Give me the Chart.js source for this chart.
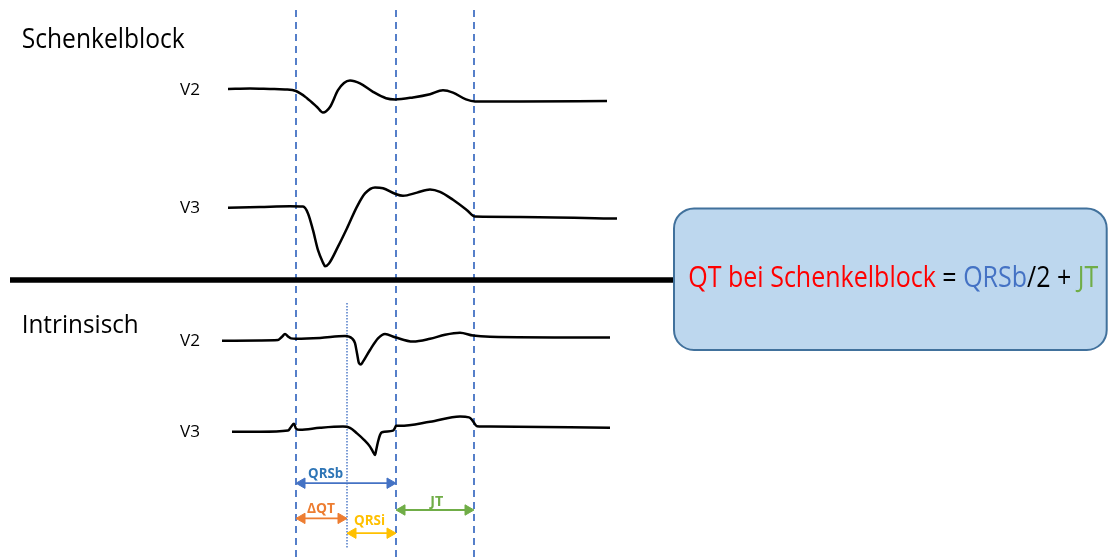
<!DOCTYPE html>
<html><head><meta charset="utf-8">
<script src="https://cdn.jsdelivr.net/npm/chart.js@4/dist/chart.umd.min.js"></script>
<style>html,body{margin:0;padding:0;background:#fff;}canvas{display:block;}</style>
</head><body>
<canvas id="c" width="1108" height="558"></canvas>
<script>
// ---------------- DATA ----------------
const sectionTitles = ['Schenkelblock', 'Intrinsisch'];
const leadLabels = ['V2', 'V3', 'V2', 'V3'];

// time in ms relative to QRS onset, amplitude in mV
const blockV2Time = [-68,-46,-26,-11,0,11,21,27,34,42,48,54,64,77,90,99,117,134,147,157,170,179,224,311];
const blockV2mV   = [0,0.01,0,-0.01,-0.05,-0.23,-0.45,-0.59,-0.45,-0.03,0.15,0.21,0.14,-0.07,-0.23,-0.26,-0.21,-0.13,-0.03,-0.09,-0.26,-0.31,-0.31,-0.3];

const blockV3Time = [-68,-36,-6,7,12,17,22,27,29,33,42,51,61,69,79,87,99,107,121,134,144,157,171,179,224,321];
const blockV3mV   = [-0.02,0,0.02,0.01,-0.16,-0.58,-1.08,-1.39,-1.48,-1.41,-0.99,-0.53,0.01,0.34,0.49,0.47,0.33,0.28,0.36,0.44,0.38,0.18,-0.08,-0.24,-0.25,-0.29];

const intrV2Time = [-74,-36,-18,-14,-11,-8,-5,0,24,49,56,59,61,63,65,67,74,82,89,99,117,134,149,164,177,194,314];
const intrV2mV   = [-0.02,-0.01,0,0.08,0.15,0.09,0.04,0.03,0.05,0.1,0.04,-0.08,-0.33,-0.58,-0.61,-0.54,-0.25,0.04,0.15,0.07,-0.04,0.03,0.13,0.18,0.11,0.08,0.06];

const intrV3Time = [-64,-36,-8,-5,-2,0,4,24,47,54,61,68,74,77,79,80,82,84,86,97,99,100,104,134,164,173,176,181,194,314];
const intrV3mV   = [-0.02,-0.02,0.01,0.1,0.18,0.06,0.03,0.08,0.11,0.08,-0.06,-0.22,-0.39,-0.52,-0.6,-0.5,-0.27,-0.1,-0.03,0.01,0.08,0.13,0.13,0.23,0.36,0.34,0.28,0.12,0.11,0.08];

const intervalBounds = [0, 100, 178];   // QRS onset (block), QRS end, T end
const intrinsicOnset = 51;              // intrinsic QRS onset
const intervalNames = ['QRSb', 'ΔQT', 'QRSi', 'JT'];
const intervalStart = [0, 0, 51, 100];
const intervalEnd   = [100, 51, 100, 178];
const formulaParts = ['QT bei Schenkelblock', ' = ', 'QRSb', '/2 + ', 'JT'];

// ---------------- LAYOUT / STYLE ----------------
const X_MIN = -296, X_MAX = 812, Y_MIN = -13.95, Y_MAX = 0;
const leadBaseline = [-2.225, -5.175, -8.5, -10.775];
const guideTop = -0.25, dottedTop = -7.575, dottedBottom = -13.7;
const dividerY = -7.0, dividerFrom = -286, dividerTo = 379;
const arrowRowY = [-12.08, -12.96, -13.33, -12.75];
const arrowColors = ['#4472C4', '#ED7D31', '#FFC000', '#70AD47'];
const arrowLabelColors = ['#2E75B6', '#ED7D31', '#FFC000', '#70AD47'];
const arrowLabelLayout = [ // centerX px, baseline px, width px
  [325.6, 478, 35], [321, 513, 28], [369.5, 525, 31], [436.7, 506, 13]
];
const HEAD = 6;

const leads = [
  [blockV2Time, blockV2mV], [blockV3Time, blockV3mV],
  [intrV2Time, intrV2mV], [intrV3Time, intrV3mV]
];

const datasets = [];
leads.forEach(([t, v], k) => {
  datasets.push({
    data: t.map((x, i) => ({x, y: v[i] + leadBaseline[k]})),
    borderColor: '#000', borderWidth: 2.5, pointRadius: 0,
    cubicInterpolationMode: 'monotone', fill: false, order: 0
  });
});
datasets.push({
  data: [{x: dividerFrom, y: dividerY}, {x: dividerTo, y: dividerY}],
  borderColor: '#000', borderWidth: 5.5, pointRadius: 0, order: 2, borderCapStyle: 'butt'
});
intervalBounds.forEach(b => {
  datasets.push({
    data: [{x: b, y: guideTop}, {x: b, y: Y_MIN}],
    borderColor: '#4472C4', borderWidth: 1.8, borderDash: [7, 5], pointRadius: 0, order: 3
  });
});
datasets.push({
  data: [{x: intrinsicOnset, y: dottedTop}, {x: intrinsicOnset, y: dottedBottom}],
  borderColor: '#4472C4', borderWidth: 1.4, borderDash: [1.5, 1.5], pointRadius: 0, order: 3
});
intervalNames.forEach((n, i) => {
  datasets.push({
    data: [{x: intervalStart[i] + HEAD, y: arrowRowY[i]}, {x: intervalEnd[i] - HEAD, y: arrowRowY[i]}],
    borderColor: arrowColors[i], borderWidth: 1.8,
    pointStyle: 'triangle', pointRotation: [-90, 90], pointRadius: HEAD,
    pointBackgroundColor: arrowColors[i], pointBorderColor: arrowColors[i], pointBorderWidth: 1,
    order: 1
  });
});

function fitText(ctx, parts, colors, x, y, size, weight, family, targetW) {
  ctx.save();
  ctx.font = `${weight} ${size}px ${family}`;
  ctx.textBaseline = 'alphabetic';
  ctx.textAlign = 'left';
  const widths = parts.map(p => ctx.measureText(p).width);
  const total = widths.reduce((a, b) => a + b, 0);
  const sx = targetW / total;
  ctx.translate(x, y);
  ctx.scale(sx, 1);
  let cx = 0;
  parts.forEach((p, i) => {
    ctx.fillStyle = colors[i];
    ctx.fillText(p, cx, 0);
    cx += widths[i];
  });
  ctx.restore();
}

const annot = {
  id: 'annot',
  afterDatasetsDraw(chart) {
    const ctx = chart.ctx;
    const xs = chart.scales.x, ys = chart.scales.y;
    // formula box
    const bx = xs.getPixelForValue(378), by = ys.getPixelForValue(-5.21);
    const bw = xs.getPixelForValue(810.7) - bx, bh = ys.getPixelForValue(-8.75) - by;
    ctx.save();
    ctx.beginPath();
    ctx.roundRect(bx, by, bw, bh, 20);
    ctx.fillStyle = '#BDD7EE';
    ctx.fill();
    ctx.lineWidth = 2;
    ctx.strokeStyle = '#41719C';
    ctx.stroke();
    ctx.restore();
    const fam = '"Open Sans", "Noto Sans", sans-serif';
    fitText(ctx, formulaParts, ['#FF0000', '#000000', '#4472C4', '#000000', '#70AD47'],
            688.3, 287.3, 29, 'normal', fam, 410);
    // section titles
    fitText(ctx, [sectionTitles[0]], ['#000'], 21.7, 48.3, 27, 'normal', fam, 163);
    fitText(ctx, [sectionTitles[1]], ['#000'], 21.7, 333.3, 25.6, 'normal', fam, 117);
    // lead labels
    leadLabels.forEach((l, k) => {
      const py = ys.getPixelForValue(leadBaseline[k]);
      fitText(ctx, [l], ['#000'], 180, py + 5.5, 16, 'normal', fam, 20);
    });
    // interval labels
    intervalNames.forEach((n, i) => {
      const [cx, by2, w] = arrowLabelLayout[i];
      fitText(ctx, [n], [arrowLabelColors[i]], cx - w / 2, by2, 15, 'bold', fam, w);
    });
  }
};

new Chart(document.getElementById('c'), {
  type: 'line',
  data: {datasets},
  options: {
    responsive: false, animation: false, events: [],
    layout: {padding: 0, autoPadding: false},
    clip: false,
    plugins: {legend: {display: false}, tooltip: {enabled: false}},
    scales: {
      x: {type: 'linear', min: X_MIN, max: X_MAX, display: false},
      y: {type: 'linear', min: Y_MIN, max: Y_MAX, display: false}
    }
  },
  plugins: [annot]
});
</script>
</body></html>
